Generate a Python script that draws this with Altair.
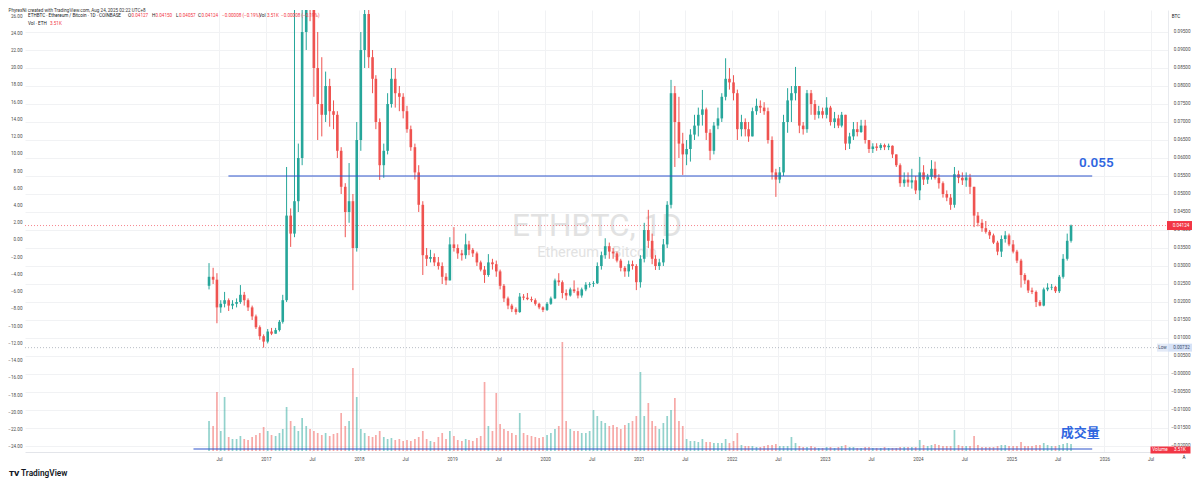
import altair as alt
import pandas as pd
from datetime import datetime, timezone

# ---------------- values (semi-monthly candles) ----------------
OPEN_FIRST = 0.0245

HIGH_2016 = [0.0308, 0.0295, 0.0280, 0.0205, 0.0228, 0.0210, 0.0205, 0.0210, 0.0247, 0.0228, 0.0210, 0.0190, 0.0165, 0.0135, 0.0110]
LOW_2016 = [0.0235, 0.0250, 0.0141, 0.0170, 0.0185, 0.0175, 0.0180, 0.0185, 0.0195, 0.0190, 0.0175, 0.0150, 0.0125, 0.0095, 0.00732]
CLOSE_2016 = [0.0270, 0.0262, 0.0185, 0.0195, 0.0205, 0.0190, 0.0195, 0.0200, 0.0220, 0.0205, 0.0185, 0.0160, 0.0130, 0.0105, 0.0090]

HIGH_2017 = [0.0125, 0.0128, 0.0128, 0.0150, 0.0220, 0.0575, 0.0460, 0.1200, 0.0640, 0.1050, 0.1350, 0.1550, 0.1150, 0.0950, 0.0880, 0.0840, 0.0820, 0.0760, 0.0730, 0.0630, 0.0530, 0.0586, 0.0500, 0.0700]
LOW_2017 = [0.0085, 0.0108, 0.0112, 0.0118, 0.0140, 0.0200, 0.0353, 0.0380, 0.0450, 0.0580, 0.0900, 0.0980, 0.0770, 0.0650, 0.0660, 0.0700, 0.0687, 0.0680, 0.0600, 0.0500, 0.0380, 0.0420, 0.0233, 0.0340]
CLOSE_2017 = [0.0118, 0.0112, 0.0122, 0.0145, 0.0205, 0.0440, 0.0390, 0.0480, 0.0600, 0.0950, 0.1200, 0.1150, 0.0850, 0.0750, 0.0720, 0.0800, 0.0730, 0.0720, 0.0620, 0.0520, 0.0450, 0.0480, 0.0350, 0.0650]

HIGH_2018 = [0.0950, 0.1150, 0.1080, 0.0900, 0.0830, 0.0710, 0.0640, 0.0780, 0.0850, 0.0850, 0.0800, 0.0780, 0.0745, 0.0690, 0.0640, 0.0580, 0.0480, 0.0350, 0.0345, 0.0335, 0.0325, 0.0310, 0.0280, 0.0380]
LOW_2018 = [0.0620, 0.0850, 0.0850, 0.0780, 0.0680, 0.0539, 0.0545, 0.0610, 0.0740, 0.0740, 0.0730, 0.0710, 0.0670, 0.0620, 0.0540, 0.0450, 0.0275, 0.0300, 0.0310, 0.0300, 0.0290, 0.0250, 0.0247, 0.0260]
CLOSE_2018 = [0.0900, 0.1000, 0.0880, 0.0820, 0.0700, 0.0580, 0.0620, 0.0750, 0.0820, 0.0780, 0.0770, 0.0730, 0.0680, 0.0630, 0.0560, 0.0470, 0.0330, 0.0320, 0.0325, 0.0310, 0.0300, 0.0270, 0.0260, 0.0360]

HIGH_2019 = [0.0408, 0.0360, 0.0345, 0.0390, 0.0370, 0.0350, 0.0340, 0.0315, 0.0300, 0.0333, 0.0320, 0.0315, 0.0290, 0.0250, 0.0215, 0.0195, 0.0185, 0.0225, 0.0222, 0.0225, 0.0215, 0.0210, 0.0198, 0.0188]
LOW_2019 = [0.0340, 0.0320, 0.0315, 0.0320, 0.0330, 0.0325, 0.0300, 0.0285, 0.0253, 0.0270, 0.0290, 0.0270, 0.0235, 0.0200, 0.0180, 0.0172, 0.0165, 0.0170, 0.0205, 0.0205, 0.0200, 0.0190, 0.0180, 0.0172]
CLOSE_2019 = [0.0350, 0.0335, 0.0330, 0.0360, 0.0345, 0.0335, 0.0310, 0.0290, 0.0275, 0.0310, 0.0305, 0.0285, 0.0245, 0.0210, 0.0190, 0.0180, 0.0172, 0.0215, 0.0212, 0.0208, 0.0205, 0.0195, 0.0185, 0.0178]

HIGH_2020 = [0.0200, 0.0215, 0.0265, 0.0280, 0.0260, 0.0235, 0.0240, 0.0260, 0.0240, 0.0240, 0.0255, 0.0255, 0.0258, 0.0310, 0.0340, 0.0377, 0.0365, 0.0350, 0.0340, 0.0320, 0.0300, 0.0315, 0.0315, 0.0305]
LOW_2020 = [0.0175, 0.0192, 0.0208, 0.0245, 0.0210, 0.0205, 0.0215, 0.0225, 0.0210, 0.0212, 0.0230, 0.0240, 0.0242, 0.0250, 0.0290, 0.0320, 0.0320, 0.0320, 0.0310, 0.0285, 0.0270, 0.0270, 0.0290, 0.0233]
CLOSE_2020 = [0.0195, 0.0210, 0.0260, 0.0255, 0.0225, 0.0218, 0.0235, 0.0230, 0.0218, 0.0235, 0.0248, 0.0250, 0.0252, 0.0300, 0.0330, 0.0355, 0.0340, 0.0335, 0.0315, 0.0295, 0.0285, 0.0305, 0.0300, 0.0255]

HIGH_2021 = [0.0330, 0.0420, 0.0456, 0.0390, 0.0330, 0.0320, 0.0375, 0.0480, 0.0817, 0.0800, 0.0770, 0.0670, 0.0650, 0.0680, 0.0720, 0.0740, 0.0789, 0.0740, 0.0680, 0.0700, 0.0740, 0.0780, 0.0877, 0.0850]
LOW_2021 = [0.0240, 0.0310, 0.0350, 0.0305, 0.0289, 0.0289, 0.0300, 0.0350, 0.0460, 0.0575, 0.0600, 0.0553, 0.0580, 0.0590, 0.0650, 0.0660, 0.0690, 0.0650, 0.0594, 0.0610, 0.0680, 0.0700, 0.0760, 0.0790]
CLOSE_2021 = [0.0320, 0.0400, 0.0370, 0.0320, 0.0300, 0.0310, 0.0360, 0.0470, 0.0780, 0.0700, 0.0640, 0.0610, 0.0625, 0.0665, 0.0690, 0.0720, 0.0735, 0.0670, 0.0620, 0.0690, 0.0710, 0.0770, 0.0820, 0.0810]

HIGH_2022 = [0.0830, 0.0790, 0.0720, 0.0710, 0.0700, 0.0740, 0.0765, 0.0760, 0.0755, 0.0740, 0.0660, 0.0570, 0.0575, 0.0720, 0.0794, 0.0800, 0.0853, 0.0800, 0.0700, 0.0789, 0.0789, 0.0761, 0.0745, 0.0740]
LOW_2022 = [0.0760, 0.0650, 0.0660, 0.0660, 0.0645, 0.0660, 0.0720, 0.0725, 0.0720, 0.0640, 0.0540, 0.0492, 0.0530, 0.0550, 0.0670, 0.0700, 0.0760, 0.0669, 0.0665, 0.0670, 0.0720, 0.0706, 0.0710, 0.0710]
CLOSE_2022 = [0.0780, 0.0680, 0.0700, 0.0680, 0.0660, 0.0730, 0.0745, 0.0740, 0.0730, 0.0650, 0.0560, 0.0540, 0.0560, 0.0700, 0.0760, 0.0780, 0.0800, 0.0690, 0.0680, 0.0780, 0.0750, 0.0720, 0.0730, 0.0720]

HIGH_2023 = [0.0769, 0.0745, 0.0728, 0.0720, 0.0728, 0.0720, 0.0670, 0.0700, 0.0700, 0.0706, 0.0706, 0.0650, 0.0641, 0.0641, 0.0641, 0.0640, 0.0640, 0.0635, 0.0610, 0.0585, 0.0560, 0.0560, 0.0570, 0.0550]
LOW_2023 = [0.0710, 0.0690, 0.0683, 0.0683, 0.0685, 0.0622, 0.0625, 0.0650, 0.0660, 0.0670, 0.0640, 0.0614, 0.0614, 0.0620, 0.0622, 0.0622, 0.0622, 0.0600, 0.0575, 0.0520, 0.0520, 0.0520, 0.0515, 0.0500]
CLOSE_2023 = [0.0740, 0.0700, 0.0710, 0.0690, 0.0720, 0.0640, 0.0660, 0.0680, 0.0672, 0.0690, 0.0650, 0.0625, 0.0632, 0.0628, 0.0636, 0.0630, 0.0634, 0.0610, 0.0580, 0.0530, 0.0540, 0.0532, 0.0538, 0.0510]

HIGH_2024 = [0.0603, 0.0580, 0.0556, 0.0594, 0.0590, 0.0555, 0.0535, 0.0510, 0.0500, 0.0575, 0.0565, 0.0560, 0.0560, 0.0556, 0.0520, 0.0450, 0.0430, 0.0425, 0.0400, 0.0390, 0.0370, 0.0385, 0.0397, 0.0390]
LOW_2024 = [0.0483, 0.0525, 0.0528, 0.0540, 0.0540, 0.0515, 0.0490, 0.0480, 0.0456, 0.0462, 0.0530, 0.0525, 0.0520, 0.0500, 0.0408, 0.0410, 0.0395, 0.0390, 0.0375, 0.0361, 0.0330, 0.0325, 0.0365, 0.0355]
CLOSE_2024 = [0.0560, 0.0540, 0.0548, 0.0570, 0.0545, 0.0530, 0.0500, 0.0490, 0.0470, 0.0555, 0.0545, 0.0538, 0.0546, 0.0520, 0.0440, 0.0420, 0.0405, 0.0395, 0.0385, 0.0365, 0.0340, 0.0375, 0.0385, 0.0360]

HIGH_2025 = [0.0372, 0.0345, 0.0320, 0.0280, 0.0262, 0.0240, 0.0232, 0.0205, 0.0240, 0.0252, 0.0250, 0.0245, 0.0275, 0.0333, 0.0390, 0.0415]
LOW_2025 = [0.0335, 0.0308, 0.0240, 0.0250, 0.0225, 0.0222, 0.0186, 0.0188, 0.0188, 0.0230, 0.0233, 0.0225, 0.0225, 0.0265, 0.0315, 0.0365]
CLOSE_2025 = [0.0340, 0.0315, 0.0275, 0.0260, 0.0232, 0.0228, 0.0200, 0.0190, 0.0235, 0.0240, 0.0242, 0.0230, 0.0270, 0.0320, 0.0370, 0.04124]

# volume (K ETH, peak reading for each half month)
VOL_2016 = [30, 25, 59, 20, 54, 14, 12, 12, 15, 12, 11, 14, 16, 18, 24]
VOL_2017 = [20, 16, 15, 18, 22, 44, 30, 25, 20, 33, 25, 22, 20, 18, 16, 18, 15, 17, 18, 38, 25, 30, 83, 54]
VOL_2018 = [22, 18, 15, 14, 16, 20, 14, 12, 13, 11, 12, 10, 11, 10, 12, 14, 20, 12, 10, 9, 14, 18, 12, 20]
VOL_2019 = [15, 11, 10, 12, 11, 10, 13, 15, 69, 25, 20, 58, 27, 22, 20, 18, 16, 38, 18, 16, 15, 14, 13, 14]
VOL_2020 = [16, 18, 22, 25, 109, 30, 22, 20, 20, 18, 18, 20, 41, 35, 30, 28, 25, 26, 24, 22, 26, 28, 30, 35]
VOL_2021 = [79, 35, 48, 30, 25, 22, 28, 35, 41, 53, 30, 25, 12, 10, 10, 9, 12, 9, 9, 8, 8, 8, 12, 8]
VOL_2022 = [10, 18, 6, 5, 5, 5, 4, 4, 5, 6, 6, 7, 5, 5, 5, 14, 8, 5, 4, 4, 5, 4, 3, 3]
VOL_2023 = [4, 4, 3, 4, 5, 6, 4, 4, 3, 3, 4, 4, 3, 3, 3, 4, 3, 3, 3, 4, 4, 4, 4, 4]
VOL_2024 = [11, 6, 5, 6, 7, 6, 5, 5, 5, 21, 6, 5, 5, 5, 15, 6, 4, 4, 4, 4, 5, 6, 6, 5]
VOL_2025 = [5, 5, 9, 5, 5, 5, 6, 6, 8, 6, 5, 5, 6, 7, 8, 7]

HIGH = HIGH_2016 + HIGH_2017 + HIGH_2018 + HIGH_2019 + HIGH_2020 + HIGH_2021 + HIGH_2022 + HIGH_2023 + HIGH_2024 + HIGH_2025
LOW = LOW_2016 + LOW_2017 + LOW_2018 + LOW_2019 + LOW_2020 + LOW_2021 + LOW_2022 + LOW_2023 + LOW_2024 + LOW_2025
CLOSE = CLOSE_2016 + CLOSE_2017 + CLOSE_2018 + CLOSE_2019 + CLOSE_2020 + CLOSE_2021 + CLOSE_2022 + CLOSE_2023 + CLOSE_2024 + CLOSE_2025
VOLUME = VOL_2016 + VOL_2017 + VOL_2018 + VOL_2019 + VOL_2020 + VOL_2021 + VOL_2022 + VOL_2023 + VOL_2024 + VOL_2025
OPEN = [OPEN_FIRST] + CLOSE[:-1]

DATES = []
for yy in range(2016, 2026):
    for mm in range(1, 13):
        for dd in (8, 23):
            s = f"{yy}-{mm:02d}-{dd:02d}"
            if "2016-05-23" <= s <= "2025-08-23":
                DATES.append(s)

# drawings / reference values
LEVEL_START = ["2016-08-07"]
LEVEL_END = ["2025-11-14"]
LEVEL_VALUE = [0.055]
LEVEL_LABEL_DATE = ["2025-11-30"]
VOLLINE_START = ["2016-03-23"]
VOLLINE_END = ["2025-11-14"]
VOLLINE_VALUE = [2]
VOL_LABEL_DATE = ["2025-09-28"]
VOL_LABEL_VALUE = [18]
LAST_PRICE = [0.04124]
LOW_PRICE = [0.00732]

RIGHT_TICKS = [0.095, 0.09, 0.085, 0.08, 0.075, 0.07, 0.065, 0.06, 0.055, 0.05, 0.045, 0.04,
               0.035, 0.03, 0.025, 0.02, 0.015, 0.01, 0.005, 0.0, -0.005, -0.01, -0.015, -0.02]
LEFT_TICKS = [26, 24, 22, 20, 18, 16, 14, 12, 10, 8, 6, 4, 2, 0, -2, -4, -6, -8, -10,
              -12, -14, -16, -18, -20, -22, -24]
X_TICKS = ["2016-07", "2017-01", "2017-07", "2018-01", "2018-07", "2019-01", "2019-07",
           "2020-01", "2020-07", "2021-01", "2021-07", "2022-01", "2022-07", "2023-01",
           "2023-07", "2024-01", "2024-07", "2025-01", "2025-07", "2026-01", "2026-07"]

# ---------------- layout ----------------
W, H = 1143, 442
UP, DOWN = "#26a69a", "#ef5350"
BLUE_LINE, BLUE_TEXT = "#2f55cc", "#2f66e0"
FONT = "Roboto"
FS = 4.6
LBL = "#4a4a4a"

base_ms = datetime(2017, 1, 1, tzinfo=timezone.utc).timestamp() * 1000
day_ms = 86400000
X_DOMAIN = [base_ms - 238 / 94 * 365.25 * day_ms, base_ms + 905 / 94 * 365.25 * day_ms]
PRICE_DOMAIN = [-0.0216667, 0.1011111]
LEFT_DOMAIN = [-24.617, 26.707]
VOL_DOMAIN = [-1, 441]

df = pd.DataFrame({"date": DATES, "open": OPEN, "high": HIGH, "low": LOW,
                   "close": CLOSE, "vol": VOLUME})
df["dir"] = ["up" if c >= o else "down" for o, c in zip(OPEN, CLOSE)]

x_axis = alt.Axis(
    values=[alt.DateTime(year=int(s[:4]), month=int(s[5:]), date=1, utc=True) for s in X_TICKS],
    labelExpr="utcmonth(datum.value) == 0 ? utcFormat(datum.value, '%Y') : 'Jul'",
    title=None, grid=True, gridColor="#f1f2f4", domain=True, domainColor="#e3e5ea",
    ticks=False, labelFontSize=FS, labelColor=LBL, labelFont=FONT, labelPadding=4,
    labelFlush=False, labelOverlap=False)


def X(field):
    return alt.X(f"{field}:T", scale=alt.Scale(type="utc", domain=X_DOMAIN), axis=x_axis)


def PY(field, axis=None):
    return alt.Y(f"{field}:Q", scale=alt.Scale(domain=PRICE_DOMAIN, nice=False, zero=False), axis=axis)


def VY(field):
    return alt.Y(f"{field}:Q", scale=alt.Scale(domain=VOL_DOMAIN, nice=False, zero=False), axis=None)


color = alt.Color("dir:N", scale=alt.Scale(domain=["up", "down"], range=[UP, DOWN]), legend=None)

layers = []

# left axis (scale only)
left_df = pd.DataFrame({"v": LEFT_TICKS})
layers.append(alt.Chart(left_df).mark_tick(opacity=0).encode(
    y=alt.Y("v:Q", scale=alt.Scale(domain=LEFT_DOMAIN, nice=False, zero=False),
            axis=alt.Axis(orient="left", values=LEFT_TICKS, format=".2f", title=None,
                          grid=False, ticks=False, domain=False, labelFontSize=FS,
                          labelColor=LBL, labelFont=FONT, labelPadding=3,
                          labelOverlap=False, labelAlign="right"))))


def text_layer(t, x, y, size=FS, color_="#131722", align="left", weight="normal",
               font=FONT, baseline="middle", opacity=1):
    return alt.Chart(pd.DataFrame({"t": [t]})).mark_text(
        align=align, baseline=baseline, fontSize=size, font=font, fontWeight=weight,
        color=color_, opacity=opacity).encode(x=alt.value(x), y=alt.value(y), text="t:N")


# watermark
layers.append(text_layer("ETHBTC, 1D", 572, 226, size=31.5, color_="#e2e2e2", align="center",
                         baseline="alphabetic"))
layers.append(text_layer("Ethereum / Bitcoin", 572, 247, size=14.5, color_="#e2e2e2",
                         align="center", baseline="alphabetic"))

# volume
layers.append(alt.Chart(df).mark_bar(size=1.7, opacity=0.5).encode(
    x=X("date"), y=VY("vol"), y2=alt.datum(0), color=color))

# blue drawing line in the volume pane
vl_df = pd.DataFrame({"s": VOLLINE_START, "e": VOLLINE_END, "v": VOLLINE_VALUE})
layers.append(alt.Chart(vl_df).mark_rule(color=BLUE_LINE, strokeWidth=1.2).encode(
    x=X("s"), x2="e:T", y=VY("v")))

# dotted price lines
lp_df = pd.DataFrame({"p": LAST_PRICE})
layers.append(alt.Chart(lp_df).mark_rule(color="#f23645", strokeDash=[1, 2], strokeWidth=1,
                                         opacity=0.6).encode(
    x=alt.value(0), x2=alt.value(W), y=PY("p")))
low_df = pd.DataFrame({"p": LOW_PRICE})
layers.append(alt.Chart(low_df).mark_rule(color="#9aa0ac", strokeDash=[1, 2], strokeWidth=1,
                                          opacity=0.7).encode(
    x=alt.value(0), x2=alt.value(W), y=PY("p")))

# candles
right_axis = alt.Axis(orient="right", values=RIGHT_TICKS,
                      labelExpr="datum.value == 0 ? '\u22120.00000' : format(datum.value, '.5f')",
                      title=None, grid=True, gridColor="#f1f2f4", ticks=False, domain=True,
                      domainColor="#e8eaee", labelFontSize=FS, labelColor=LBL, labelFont=FONT,
                      labelAlign="right", labelPadding=22, labelOverlap=False, labelBound=False)
layers.append(alt.Chart(df).mark_rule(strokeWidth=1, clip=True).encode(
    x=X("date"), y=PY("low", right_axis), y2="high:Q", color=color))
layers.append(alt.Chart(df).mark_bar(size=2.6, opacity=1, clip=True).encode(
    x=X("date"), y=PY("open"), y2="close:Q", color=color))

# 0.055 level line and label
lv_df = pd.DataFrame({"s": LEVEL_START, "e": LEVEL_END, "v": LEVEL_VALUE})
layers.append(alt.Chart(lv_df).mark_rule(color=BLUE_LINE, strokeWidth=1.2).encode(
    x=X("s"), x2="e:T", y=PY("v")))
lvl_df = pd.DataFrame({"d": LEVEL_LABEL_DATE, "v": LEVEL_VALUE, "t": ["0.055"]})
layers.append(alt.Chart(lvl_df).mark_text(fontSize=13.5, fontWeight=600, font=FONT, color=BLUE_TEXT,
                                          align="center", baseline="middle", dy=-13).encode(
    x=X("d"), y=PY("v"), text="t:N"))
vlab_df = pd.DataFrame({"d": VOL_LABEL_DATE, "v": VOL_LABEL_VALUE, "t": ["成交量"]})
layers.append(alt.Chart(vlab_df).mark_text(fontSize=13, fontWeight="bold", font="Noto Sans CJK SC",
                                           color=BLUE_TEXT, align="center", baseline="middle").encode(
    x=X("d"), y=VY("v"), text="t:N"))

# price scale badges
layers.append(alt.Chart(lp_df).mark_tick(orient="horizontal", size=28, thickness=9, color="#f23645",
                                         opacity=1).encode(x=alt.value(W + 13), y=PY("p")))
layers.append(alt.Chart(lp_df).mark_text(fontSize=FS, font=FONT, color="white", align="center",
                                         baseline="middle").encode(
    x=alt.value(W + 13), y=PY("p"), text=alt.Text("p:Q", format=".5f")))
layers.append(alt.Chart(low_df).mark_tick(orient="horizontal", size=11, thickness=8, color="#e3eaf7",
                                          opacity=1).encode(x=alt.value(W - 5.5), y=PY("p")))
layers.append(alt.Chart(low_df).mark_tick(orient="horizontal", size=27, thickness=8, color="#d6e2f7",
                                          opacity=1).encode(x=alt.value(W + 13.5), y=PY("p")))
layers.append(alt.Chart(low_df).mark_text(fontSize=FS, font=FONT, color="#3b4a6b", align="center",
                                          baseline="middle").encode(
    x=alt.value(W - 5.5), y=PY("p"), text=alt.value("Low")))
layers.append(alt.Chart(low_df).mark_text(fontSize=FS, font=FONT, color="#3b4a6b", align="center",
                                          baseline="middle").encode(
    x=alt.value(W + 13.5), y=PY("p"), text=alt.Text("p:Q", format=".5f")))

# volume badge
layers.append(alt.Chart(pd.DataFrame({"a": [1]})).mark_tick(
    orient="horizontal", size=40, thickness=7, color="#f23645", opacity=1).encode(
    x=alt.value(W + 2.5), y=alt.value(440)))
layers.append(text_layer("Volume", W - 8, 440, color_="white", align="center"))
layers.append(text_layer("3.51K", W + 12, 440, color_="white", align="center"))

layers.append(text_layer("BTC", W + 8, 7, color_="#131722", align="center"))
layers.append(text_layer("A", W + 16, 448, color_="#131722", align="center"))

# header
layers.append(text_layer("PhyrexNi created with TradingView.com, Aug 24, 2025 02:22 UTC+8", -16.5, 1,
                         color_="#333333"))
RED = "#f23645"
HEADER = [("ETHBTC · Ethereum / Bitcoin · 1D · COINBASE", 3, "#131722"),
          ("O", 103, "#131722"), ("0.04127", 106.5, RED),
          ("H", 127, "#131722"), ("0.04150", 130.5, RED),
          ("L", 151, "#131722"), ("0.04057", 154, RED),
          ("C", 173, "#131722"), ("0.04124", 176.5, RED),
          ("\u22120.00008 (\u22120.19%)", 197, RED),
          ("Vol", 234, "#131722"), ("3.51K", 242, RED),
          ("\u22120.00008 (\u22120.19%)", 256, RED)]
for t, xx, cc in HEADER:
    layers.append(text_layer(t, xx, 6, color_=cc))
layers.append(text_layer("Vol · ETH", 3, 14, color_="#131722"))
layers.append(text_layer("3.51K", 25, 14, color_=RED))

# logo
layers.append(text_layer("TV", -16, 464, size=8, weight=900, color_="#131722"))
layers.append(text_layer("TradingView", -4, 464, size=8.3, weight=600, color_="#131722"))

chart = alt.layer(*layers).resolve_scale(y="independent").properties(
    width=W, height=H,
    autosize=alt.AutoSizeParams(type="none"),
    padding={"left": 17, "top": 2, "right": 24, "bottom": 26},
).configure_view(stroke=None)

chart.save("out.html", embed_options={"renderer": "svg", "actions": False})
